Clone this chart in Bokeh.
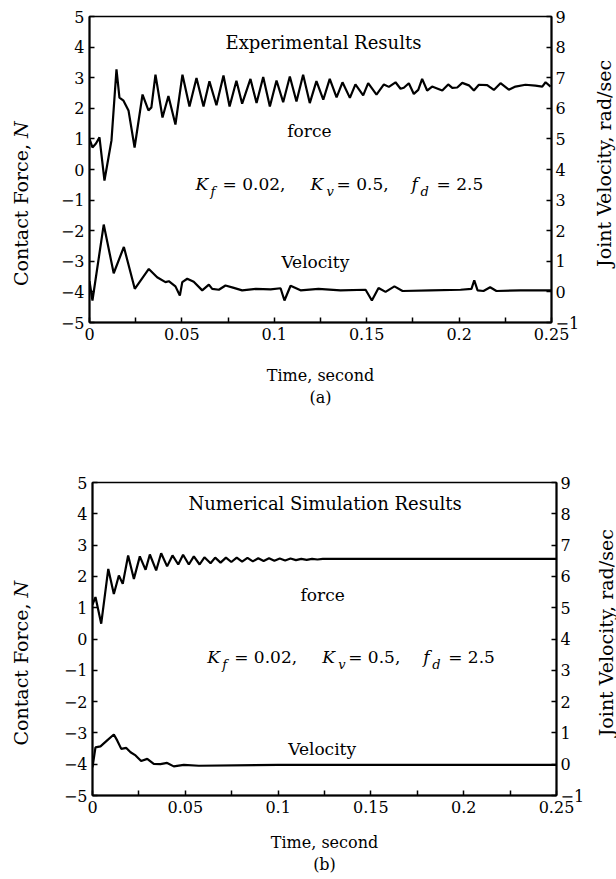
import math
from bokeh.plotting import figure
from bokeh.models import Range1d, LinearAxis, FixedTicker, Label
from bokeh.layouts import column, row
from bokeh.embed import file_html
from bokeh.resources import INLINE

# ---------------- data ----------------
x_ticks = [0, 0.05, 0.1, 0.15, 0.2, 0.25]
x_minor_ticks = [0.025, 0.075, 0.125, 0.175, 0.225]
x_tick_labels = ["0", "0.05", "0.1", "0.15", "0.2", "0.25"]
force_ticks = [-5, -4, -3, -2, -1, 0, 1, 2, 3, 4, 5]
vel_ticks = [-1, 0, 1, 2, 3, 4, 5, 6, 7, 8, 9]

# (a) experimental contact force, N
exp_force_t = [0.0, 0.0016, 0.0035, 0.0054, 0.0081, 0.0103, 0.0119, 0.0146, 0.0162, 0.0184,
               0.0211, 0.0244, 0.0287, 0.0319, 0.0335, 0.0357, 0.0395, 0.0427, 0.0465, 0.0503,
               0.0541, 0.0579, 0.0617, 0.0649, 0.0687, 0.0725, 0.0758, 0.0795, 0.0826, 0.0871,
               0.0904, 0.0940, 0.0976, 0.1012, 0.1048, 0.1084, 0.1120, 0.1156, 0.1192, 0.1228,
               0.1265, 0.1300, 0.1337, 0.1369, 0.1409, 0.1439, 0.1481, 0.1508, 0.1553, 0.1593,
               0.1620, 0.1656, 0.1683, 0.1701, 0.1728, 0.1755, 0.1779, 0.1800, 0.1827, 0.1854,
               0.1881, 0.1909, 0.1941, 0.1963, 0.1990, 0.2017, 0.2053, 0.2080, 0.2107, 0.2152,
               0.2188, 0.2224, 0.2269, 0.2305, 0.2359, 0.2413, 0.2450, 0.2468, 0.2495]
exp_force_v = [1.0, 0.72, 0.85, 1.05, -0.36, 0.40, 0.95, 3.27, 2.35, 2.25,
               1.93, 0.72, 2.45, 1.93, 2.03, 3.10, 1.70, 2.40, 1.47, 3.10,
               2.06, 2.99, 2.06, 2.88, 2.10, 3.07, 2.06, 2.90, 2.15, 2.96,
               2.17, 3.02, 2.06, 2.91, 2.20, 3.04, 2.22, 3.10, 2.17, 2.89,
               2.28, 2.96, 2.36, 2.85, 2.34, 2.78, 2.42, 2.82, 2.45, 2.78,
               2.70, 2.85, 2.64, 2.67, 2.82, 2.47, 2.60, 2.96, 2.58, 2.71,
               2.65, 2.58, 2.78, 2.67, 2.68, 2.83, 2.75, 2.58, 2.77, 2.76,
               2.60, 2.82, 2.61, 2.71, 2.77, 2.74, 2.71, 2.85, 2.71]

# (a) experimental joint velocity, rad/sec
exp_vel_t = [0.0, 0.0016, 0.0077, 0.0131, 0.0186, 0.0245, 0.0321, 0.0366, 0.0411, 0.0429,
             0.0465, 0.0489, 0.0502, 0.0529, 0.0564, 0.0610, 0.0646, 0.0664, 0.0700, 0.0736,
             0.0781, 0.0826, 0.0900, 0.0980, 0.1034, 0.1055, 0.1088, 0.1142, 0.1239, 0.1358,
             0.1494, 0.1528, 0.1564, 0.1602, 0.1650, 0.1694, 0.1845, 0.2008, 0.2067, 0.2082,
             0.2100, 0.2132, 0.2168, 0.2202, 0.2332, 0.2500]
exp_vel_v = [0.35, -0.28, 2.20, 0.61, 1.47, 0.10, 0.75, 0.48, 0.32, 0.35,
             0.18, -0.12, 0.32, 0.43, 0.33, 0.05, 0.24, 0.10, 0.07, 0.21,
             0.13, 0.05, 0.10, 0.08, 0.12, -0.28, 0.20, 0.05, 0.10, 0.05,
             0.07, -0.28, 0.13, 0.00, 0.18, 0.03, 0.05, 0.07, 0.10, 0.38,
             0.05, 0.03, 0.15, 0.03, 0.05, 0.05]

# (b) simulated contact force, N
sim_force_t = [0.0, 0.0016, 0.0047, 0.0085, 0.0115, 0.0142, 0.0163, 0.0192, 0.0223, 0.0255,
               0.0286, 0.0309, 0.0343, 0.0370, 0.0402, 0.0431, 0.0462, 0.0488, 0.0519, 0.0546,
               0.0577, 0.0603, 0.0636, 0.0661, 0.0690, 0.0719, 0.0748, 0.0777, 0.0806, 0.0835,
               0.0864, 0.0893, 0.0922, 0.0951, 0.0980, 0.1009, 0.1038, 0.1067, 0.1096, 0.1125,
               0.1154, 0.1183, 0.1212, 0.1241, 0.1300, 0.2500]
sim_force_v = [1.10, 1.34, 0.49, 2.24, 1.44, 2.03, 1.76, 2.67, 1.92, 2.64,
               2.21, 2.70, 2.19, 2.74, 2.32, 2.67, 2.38, 2.69, 2.38, 2.64,
               2.38, 2.61, 2.42, 2.60, 2.44, 2.60, 2.46, 2.60, 2.47, 2.59,
               2.48, 2.58, 2.49, 2.58, 2.50, 2.57, 2.51, 2.57, 2.52, 2.56,
               2.53, 2.56, 2.54, 2.56, 2.56, 2.56]

# (b) simulated joint velocity, rad/sec
sim_vel_t = [0.0, 0.0016, 0.0043, 0.0079, 0.0115, 0.0133, 0.0155, 0.0182, 0.0205, 0.0232,
             0.0262, 0.0295, 0.0330, 0.0366, 0.0402, 0.0438, 0.0492, 0.0573, 0.1000, 0.2500]
sim_vel_v = [-0.10, 0.54, 0.57, 0.76, 0.95, 0.76, 0.49, 0.52, 0.38, 0.28,
             0.10, 0.17, 0.01, 0.00, 0.04, -0.07, -0.02, -0.05, -0.02, -0.02]

FONT = "DejaVu Serif"


def add_label(p, x, y, text, size="17px", style="normal", align="center", dx=0, dy=0,
              angle=0.0):
    p.add_layout(Label(x=x, y=y, x_offset=dx, y_offset=dy, text=text, angle=angle,
                       text_font=FONT, text_font_size=size, text_font_style=style,
                       text_align=align, text_baseline="middle", text_color="black"))


def add_params(p, x, y):
    pieces = [
        (0, "K", "italic", "17px", 0),
        (15, "f", "italic", "13px", -7),
        (27, "= 0.02,", "normal", "17px", 0),
        (115, "K", "italic", "17px", 0),
        (131, "v", "italic", "13px", -7),
        (141, "= 0.5,", "normal", "17px", 0),
        (216, "f", "italic", "17px", 0),
        (225, "d", "italic", "13px", -7),
        (241, "= 2.5", "normal", "17px", 0),
    ]
    for dx, txt, style, size, dy in pieces:
        add_label(p, x, y, txt, size=size, style=style, align="left", dx=dx, dy=dy)


def strip(width, height, border_top, border_bottom):
    """A bare figure whose vertical frame matches the panel's, holding a rotated axis title."""
    s = figure(width=width, height=height, x_range=Range1d(0, width),
               y_range=Range1d(-5, 5), output_backend="svg", toolbar_location=None,
               x_axis_location=None, y_axis_location=None,
               min_border_left=0, min_border_right=0,
               min_border_top=border_top, min_border_bottom=border_bottom,
               background_fill_color="white", border_fill_color="white")
    s.outline_line_color = None
    s.xgrid.visible = False
    s.ygrid.visible = False
    return s


def left_strip(height, border_top, border_bottom, cy):
    s = strip(34, height, border_top, border_bottom)
    add_label(s, 20, cy, "Contact Force,", size="19px", align="right", dy=54,
              angle=math.pi / 2)
    add_label(s, 20, cy, "N", size="19px", style="italic", align="left", dy=60,
              angle=math.pi / 2)
    return s


def right_strip(height, border_top, border_bottom, cx, cy):
    s = strip(24, height, border_top, border_bottom)
    add_label(s, cx, cy, "Joint Velocity, rad/sec", size="19px", angle=math.pi / 2)
    return s


def make_panel(height, frame_left, frame_right, frame_top, frame_bottom, xlabel, xlab_std):
    p = figure(width=558, height=height,
               x_range=Range1d(0, 0.25), y_range=Range1d(-5, 5),
               output_backend="svg", toolbar_location=None,
               min_border_left=frame_left, min_border_right=frame_right,
               min_border_top=frame_top, min_border_bottom=frame_bottom,
               background_fill_color="white", border_fill_color="white")
    p.extra_y_ranges = {"vel": Range1d(-1, 9)}
    p.xgrid.visible = False
    p.ygrid.visible = False
    p.outline_line_color = "black"
    p.outline_line_width = 1.5

    right = LinearAxis(y_range_name="vel", ticker=FixedTicker(ticks=vel_ticks))
    p.add_layout(right, "right")

    p.xaxis.ticker = FixedTicker(ticks=x_ticks, minor_ticks=x_minor_ticks)
    p.xaxis.major_label_overrides = {t: s for t, s in zip(x_ticks, x_tick_labels)}
    p.xaxis.axis_label = xlabel
    p.yaxis[0].ticker = FixedTicker(ticks=force_ticks)

    for ax in p.axis:
        ax.axis_line_width = 2
        ax.axis_line_color = "black"
        ax.major_tick_in = 5
        ax.major_tick_out = 0
        ax.minor_tick_in = 5
        ax.minor_tick_out = 0
        ax.major_tick_line_width = 1.5
        ax.minor_tick_line_width = 1.5
        ax.major_label_text_font = FONT
        ax.major_label_text_font_size = "16px"
        ax.major_label_text_color = "black"
        ax.major_label_standoff = 5
        ax.axis_label_text_font = FONT
        ax.axis_label_text_font_size = "16px"
        ax.axis_label_text_font_style = "normal"
        ax.axis_label_text_color = "black"
    right.major_label_standoff = 4
    p.xaxis.axis_label_standoff = xlab_std
    p.xaxis.minor_tick_line_color = "black"
    p.yaxis.minor_tick_line_color = None
    return p


# ---------------- (a) experimental ----------------
p1 = make_panel(440, 55, 41, 16, 118, "Time, second\n(a)", 23)
p1.line(exp_force_t, exp_force_v, line_color="black", line_width=2.2)
p1.line(exp_vel_t, exp_vel_v, line_color="black", line_width=2.2, y_range_name="vel")
add_label(p1, 0.1266, 4.16, "Experimental Results", size="18px")
add_label(p1, 0.119, 1.25, "force", size="17px")
add_label(p1, 0.1222, -3.03, "Velocity", size="17px")
add_params(p1, 0.0574, -0.49)
row1 = row(left_strip(440, 16, 118, -0.93), p1, right_strip(440, 16, 118, 11, 0.2), spacing=0)

# ---------------- (b) simulation ----------------
p2 = make_panel(438, 58, 36, 42, 83, "Time, second\n(b)", 17)
p2.line(sim_force_t, sim_force_v, line_color="black", line_width=2.2)
p2.line(sim_vel_t, sim_vel_v, line_color="black", line_width=2.2, y_range_name="vel")
add_label(p2, 0.1253, 4.32, "Numerical Simulation Results", size="18px")
add_label(p2, 0.124, 1.39, "force", size="17px")
add_label(p2, 0.1237, -3.51, "Velocity", size="17px")
add_params(p2, 0.0618, -0.58)
row2 = row(left_strip(438, 42, 83, -0.59), p2, right_strip(438, 42, 83, 13, 0.2), spacing=0)

layout = column(row1, row2, spacing=0)
open("out.html", "w").write(file_html(layout, INLINE))
